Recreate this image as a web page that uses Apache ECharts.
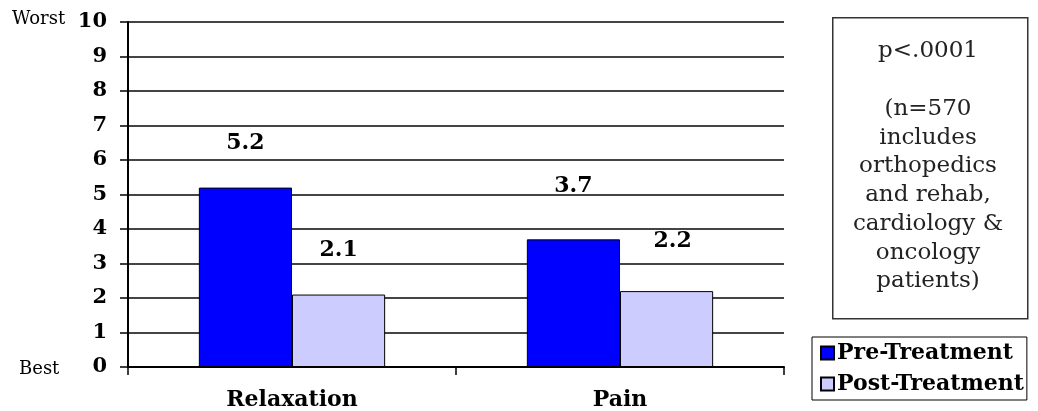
<!DOCTYPE html>
<html>
<head>
<meta charset="utf-8">
<script src="https://cdn.jsdelivr.net/npm/echarts@6/dist/echarts.min.js"></script>
<style>
html,body{margin:0;padding:0;background:#fff;}
#chart{width:1038px;height:411px;}
</style>
</head>
<body>
<div id="chart"></div>
<script>
const categories = ['Relaxation', 'Pain'];
const preTreatment = [5.2, 3.7];
const postTreatment = [2.1, 2.2];
const seriesNames = ['Pre-Treatment', 'Post-Treatment'];
const yTicks = [0, 10, 1];
const noteLines = ['p<.0001', '', '(n=570', 'includes', 'orthopedics', 'and rehab,', 'cardiology &', 'oncology', 'patients)'];

const serif = '"DejaVu Serif", "Liberation Serif", serif';
const chart = echarts.init(document.getElementById('chart'));

const labelStyle = (dist, off) => ({
  show: true, position: 'top', distance: dist, offset: off || [0, 0],
  fontFamily: serif, fontWeight: 'bold', fontSize: 22, color: '#000',
  formatter: p => p.value.toFixed(1)
});

chart.setOption({
  animation: false,
  backgroundColor: '#fff',
  grid: { left: 128, right: 254, top: 22, bottom: 44 },
  legend: {
    orient: 'vertical', left: 812, top: 337, icon: 'rect',
    padding: [5, 3, 5, 8], itemGap: 9, itemWidth: 13, itemHeight: 13,
    borderColor: '#000', borderWidth: 1, backgroundColor: '#fff',
    textStyle: { fontFamily: serif, fontWeight: 'bold', fontSize: 22, color: '#000', padding: [0, 0, 0, -2] },
    data: seriesNames
  },
  xAxis: {
    type: 'category', data: categories,
    axisLine: { lineStyle: { color: '#000', width: 2 } },
    axisTick: { show: true, length: 8, lineStyle: { color: '#000', width: 1.5 } },
    axisLabel: { margin: 22, fontFamily: serif, fontWeight: 'bold', fontSize: 22, color: '#000' }
  },
  yAxis: {
    type: 'value', min: yTicks[0], max: yTicks[1], interval: yTicks[2],
    axisLine: { show: true, lineStyle: { color: '#000', width: 2 } },
    axisTick: { show: true, length: 8, lineStyle: { color: '#000', width: 1.5 } },
    axisLabel: { margin: 21, fontFamily: serif, fontWeight: 'bold', fontSize: 21, color: '#000' },
    splitLine: { show: true, lineStyle: { color: '#444', width: 2 } }
  },
  series: [
    {
      name: seriesNames[0], type: 'bar', barWidth: '28.4%', barGap: '0%',
      itemStyle: { color: '#0000FF', borderColor: '#000', borderWidth: 1 },
      data: preTreatment.map((v, i) => ({ value: v, label: labelStyle(i === 0 ? 33 : 42) }))
    },
    {
      name: seriesNames[1], type: 'bar', barWidth: '28.4%', barGap: '0%',
      itemStyle: { color: '#CCCCFF', borderColor: '#000', borderWidth: 1 },
      data: postTreatment.map((v, i) => ({ value: v, label: labelStyle(i === 0 ? 33 : 39, i === 1 ? [6, 0] : [0, 0]) }))
    }
  ],
  graphic: [
    { type: 'text', left: 12, top: 10, style: { text: 'Worst', font: '18px ' + serif, fill: '#000' } },
    { type: 'text', left: 19, top: 360, style: { text: 'Best', font: '18px ' + serif, fill: '#000' } },
    { type: 'rect', left: 832, top: 17, shape: { width: 195, height: 301 }, style: { fill: '#fff', stroke: '#333', lineWidth: 1.5 } },
    { type: 'text', x: 928, y: 37, style: { text: noteLines.join('\n'), font: '23px ' + serif, fill: '#222', align: 'center', verticalAlign: 'top', lineHeight: 28.75 } }
  ]
});
</script>
</body>
</html>
